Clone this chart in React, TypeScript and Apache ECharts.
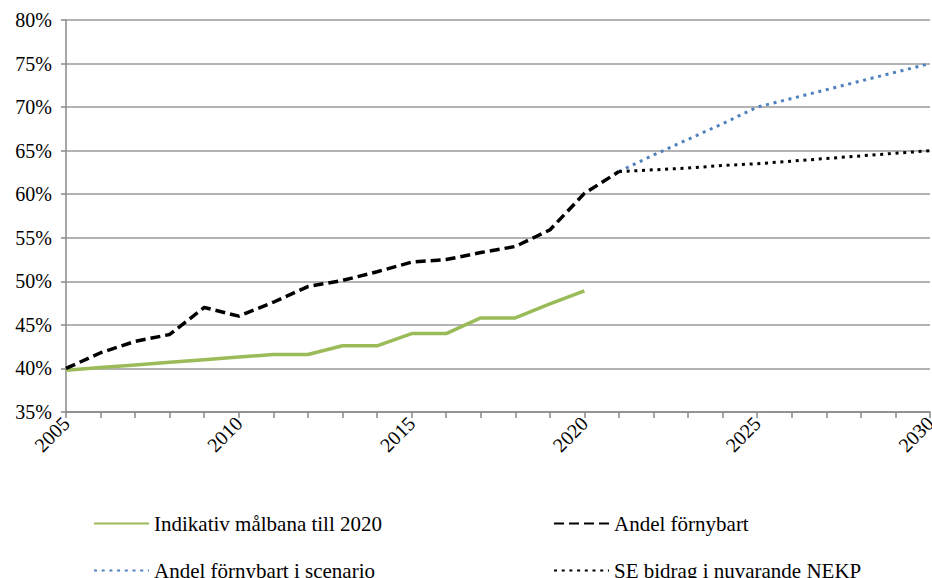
import React, { useEffect, useRef } from "react";
import * as echarts from "echarts";

const years = ["2005","2006","2007","2008","2009","2010","2011","2012","2013","2014","2015","2016","2017","2018","2019","2020","2021","2022","2023","2024","2025","2026","2027","2028","2029","2030"];

const malbana = [39.8, 40.1, 40.4, 40.7, 41.0, 41.3, 41.6, 41.6, 42.6, 42.6, 44.0, 44.0, 45.8, 45.8, 47.4, 48.9, null, null, null, null, null, null, null, null, null, null];
const andel = [40.0, 41.8, 43.1, 43.9, 47.0, 46.0, 47.6, 49.4, 50.1, 51.1, 52.2, 52.5, 53.3, 54.0, 55.9, 60.1, 62.6, null, null, null, null, null, null, null, null, null];
const scenario = [null, null, null, null, null, null, null, null, null, null, null, null, null, null, null, null, 62.6, 64.5, 66.3, 68.1, 70.0, 71.0, 72.0, 73.0, 74.0, 75.0];
const nekp = [null, null, null, null, null, null, null, null, null, null, null, null, null, null, null, null, 62.6, 62.8, 63.0, 63.3, 63.5, 63.8, 64.1, 64.4, 64.7, 65.0];

const names = ["Indikativ målbana till 2020", "Andel förnybart", "Andel förnybart i scenario", "SE bidrag i nuvarande NEKP"];

const FONT = "'Times New Roman', 'Liberation Serif', serif";

export default function App() {
  const ref = useRef<HTMLDivElement>(null);
  useEffect(() => {
    const chart = echarts.init(ref.current!, null, { renderer: "svg", width: 932, height: 578 });
    const legendBase = {
      padding: 0,
      itemWidth: 55,
      itemHeight: 14,
      itemGap: 4,
      itemStyle: { opacity: 0 },
      textStyle: { fontFamily: FONT, fontSize: 21, color: "#000" },
      selectedMode: false,
    };
    chart.setOption({
      animation: false,
      backgroundColor: "#fff",
      textStyle: { fontFamily: FONT },
      grid: { left: 66, right: 2, top: 20, bottom: 166, containLabel: false, outerBoundsMode: "none" },
      legend: [
        { ...legendBase, left: 93, top: 513, data: [names[0]] },
        { ...legendBase, left: 553, top: 513, data: [names[1]] },
        { ...legendBase, left: 93, top: 560, data: [names[2]] },
        { ...legendBase, left: 553, top: 560, data: [names[3]] },
      ],
      xAxis: {
        type: "category",
        data: years,
        boundaryGap: false,
        axisLine: { lineStyle: { color: "#888", width: 1.5 } },
        axisTick: { show: true, interval: 0, length: 6, lineStyle: { color: "#888", width: 1.5 } },
        axisLabel: { interval: 4, rotate: 45, margin: 8, fontFamily: FONT, fontSize: 20, color: "#000" },
        splitLine: { show: false },
      },
      yAxis: {
        type: "value",
        min: 35,
        max: 80,
        interval: 5,
        axisLine: { show: true, lineStyle: { color: "#888", width: 1.5 } },
        axisTick: { show: true, length: 5, lineStyle: { color: "#888", width: 1.5 } },
        axisLabel: { formatter: "{value}%", margin: 14, fontFamily: FONT, fontSize: 20, color: "#000" },
        splitLine: { show: true, lineStyle: { color: "#9a9a9a", width: 1.5 } },
      },
      series: [
        {
          name: names[0], type: "line", data: malbana, symbol: "none", connectNulls: false,
          lineStyle: { color: "#9bbb59", width: 3.5 }, itemStyle: { color: "#9bbb59" }, z: 3,
        },
        {
          name: names[2], type: "line", data: scenario, symbol: "none",
          lineStyle: { color: "#4f81bd", width: 3, type: [3, 4.7] }, itemStyle: { color: "#4f81bd" }, z: 2,
        },
        {
          name: names[3], type: "line", data: nekp, symbol: "none",
          lineStyle: { color: "#000", width: 3, type: [3, 4.7] }, itemStyle: { color: "#000" }, z: 2,
        },
        {
          name: names[1], type: "line", data: andel, symbol: "none",
          lineStyle: { color: "#000", width: 3.5, type: [10, 5] }, itemStyle: { color: "#000" }, z: 4,
        },
      ],
    });
    return () => chart.dispose();
  }, []);
  return <div ref={ref} style={{ width: 932, height: 578, position: "fixed", left: 0, top: 0 }} />;
}
